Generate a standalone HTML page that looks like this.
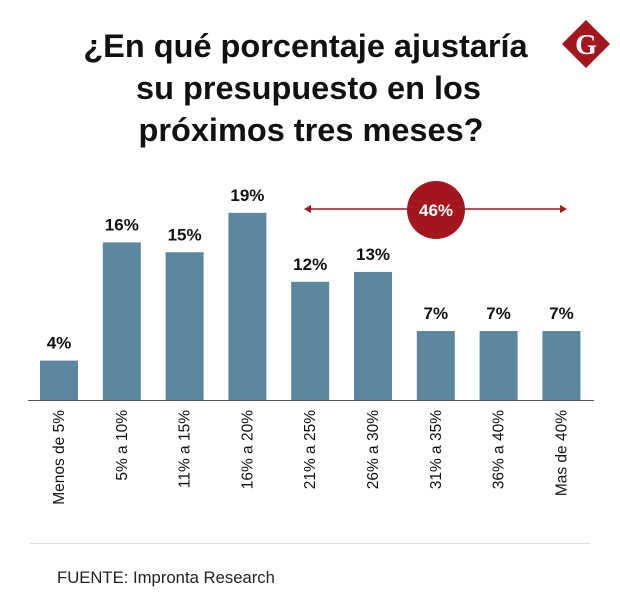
<!DOCTYPE html>
<html><head><meta charset="utf-8"><style>
body{margin:0;background:#fff;}
svg{display:block;font-family:"Liberation Sans",sans-serif;}
</style></head><body>
<svg id="chart" width="620" height="615" viewBox="0 0 620 615">
<text font-size="32.5" font-weight="bold" fill="#111" text-anchor="middle">
<tspan x="310" y="57">¿En qué porcentaje ajustaría</tspan>
<tspan x="313" y="99">su presupuesto en los</tspan>
<tspan x="311" y="141">próximos tres meses?</tspan>
</text>
<g>
<rect x="569" y="27" width="34" height="34" fill="#a4161d" transform="rotate(45 586 44)"/>
<text x="586" y="54" font-family="Liberation Serif,serif" font-weight="bold" font-size="28" fill="#fff" text-anchor="middle">G</text>
</g>
<g id="bars"></g>
<line x1="28" y1="400.5" x2="594" y2="400.5" stroke="#555" stroke-width="1"/>
<g>
<line x1="306" y1="209" x2="565" y2="209" stroke="#a4161d" stroke-width="1.5"/>
<polygon points="304,209 311,205 311,213" fill="#a4161d"/>
<polygon points="567,209 560,205 560,213" fill="#a4161d"/>
<circle cx="436" cy="210" r="29" fill="#a4161d"/>
<text x="436" y="216" font-size="17" font-weight="bold" fill="#fff" text-anchor="middle">46%</text>
</g>
<line x1="30" y1="543.5" x2="590" y2="543.5" stroke="#ddd"/>
<text x="57" y="583" font-size="16.7" fill="#222">FUENTE: Impronta Research</text>
</svg>
<script>
const categories=["Menos de 5%","5% a 10%","11% a 15%","16% a 20%","21% a 25%","26% a 30%","31% a 35%","36% a 40%","Mas de 40%"];
const values=[4,16,15,19,12,13,7,7,7];
const valueLabels=["4%","16%","15%","19%","12%","13%","7%","7%","7%"];
const ns="http://www.w3.org/2000/svg";
const g=document.getElementById('bars');
const x0=59,step=62.8,bw=38,base=400,k=9.85;
const xs=i=>x0+i*step, ys=v=>base-v*k;
categories.forEach((c,i)=>{
  const r=document.createElementNS(ns,'rect');
  
  
  r.setAttribute('x',xs(i)-bw/2);r.setAttribute('y',ys(values[i]));
  r.setAttribute('width',bw);r.setAttribute('height',base-ys(values[i]));
  r.setAttribute('fill','#5b86a0');g.appendChild(r);
  const t=document.createElementNS(ns,'text');
  
  
  t.setAttribute('x',xs(i));t.setAttribute('y',ys(values[i])-12);
  t.setAttribute('text-anchor','middle');t.setAttribute('font-size','17');
  t.setAttribute('font-weight','bold');t.setAttribute('fill','#111');
  t.textContent=valueLabels[i];g.appendChild(t);
  const l=document.createElementNS(ns,'text');
  
  
  l.setAttribute('transform','translate('+(xs(i)+5)+',410) rotate(-90)');
  l.setAttribute('text-anchor','end');l.setAttribute('font-size','15.5');
  l.setAttribute('fill','#111');l.textContent=c;g.appendChild(l);
});
</script>
</body></html>
